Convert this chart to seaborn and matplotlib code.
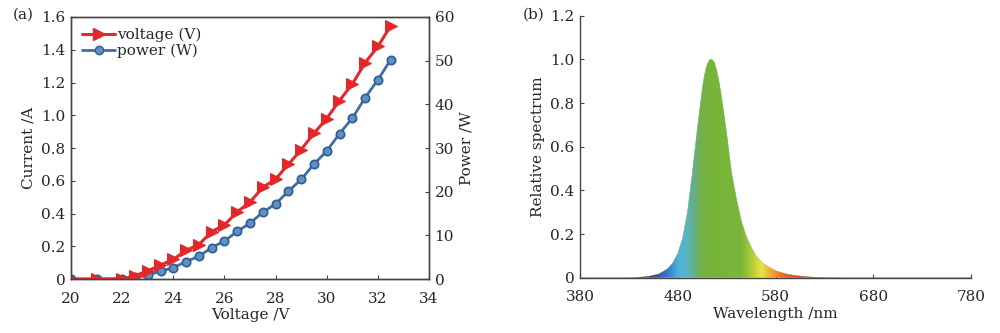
import numpy as np
import pandas as pd
import matplotlib
matplotlib.use("Agg")
import matplotlib.pyplot as plt
import seaborn as sns
from matplotlib.colors import LinearSegmentedColormap, Normalize
from matplotlib.lines import Line2D

# ---- data ----
volts = [20, 21, 22, 22.5, 23, 23.5, 24, 24.5, 25, 25.5, 26, 26.5, 27, 27.5,
         28, 28.5, 29, 29.5, 30, 30.5, 31, 31.5, 32, 32.5]
current = [0, 0, 0, 0.02, 0.05, 0.085, 0.12, 0.175, 0.21, 0.29, 0.33, 0.41,
           0.47, 0.56, 0.61, 0.70, 0.79, 0.89, 0.98, 1.09, 1.19, 1.32, 1.42, 1.545]
power = [0, 0, 0.1, 0.4, 0.9, 1.8, 2.6, 4.0, 5.2, 7.2, 8.7, 10.9, 12.8, 15.3,
         17.2, 20.1, 22.8, 26.3, 29.3, 33.3, 36.8, 41.5, 45.6, 50.2]

wavelength = [380, 430, 440, 450, 460, 465, 470, 475, 480, 485, 490, 495, 500,
              505, 507.5, 510, 512.5, 515, 517.5, 520, 522.5, 525, 530, 535,
              540, 545, 550, 555, 560, 565, 570, 580, 590, 600, 610, 620, 630,
              650, 700, 780]
spectrum = [0, 0, 0.002, 0.006, 0.016, 0.028, 0.042, 0.068, 0.11, 0.18, 0.30,
            0.48, 0.68, 0.86, 0.93, 0.975, 0.997, 1.00, 0.985, 0.945, 0.89,
            0.82, 0.66, 0.48, 0.36, 0.26, 0.19, 0.14, 0.10, 0.075, 0.057,
            0.032, 0.018, 0.010, 0.005, 0.002, 0.001, 0, 0, 0]

a_yticks = [0, 0.2, 0.4, 0.6, 0.8, 1.0, 1.2, 1.4, 1.6]
a_ylabels = ["0", "0.2", "0.4", "0.6", "0.8", "1.0", "1.2", "1.4", "1.6"]
b_yticks = [0, 0.2, 0.4, 0.6, 0.8, 1.0, 1.2]
b_ylabels = ["0", "0.2", "0.4", "0.6", "0.8", "1.0", "1.2"]

sns.set_style("ticks")
plt.rcParams["font.family"] = ["DejaVu Serif"]
plt.rcParams["font.size"] = 11
plt.rcParams["xtick.direction"] = "in"
plt.rcParams["ytick.direction"] = "in"

df = pd.DataFrame({"V": volts, "I": current, "P": power})

red = "#e3282c"
blue = "#3f6ea4"
spine_col = "#444444"

fig = plt.figure(figsize=(10, 3.33), dpi=100)

# ---- panel (a) ----
ax = fig.add_axes([0.071, 0.162, 0.358, 0.787])
ax2 = ax.twinx()
sns.lineplot(data=df, x="V", y="P", ax=ax2, color=blue, linewidth=2,
             marker="o", markersize=6, markerfacecolor="#5f8fc4",
             markeredgecolor="#2f5d92", markeredgewidth=1.2)
sns.lineplot(data=df, x="V", y="I", ax=ax, color=red, linewidth=2.2,
             marker=">", markersize=8, markerfacecolor=red,
             markeredgecolor=red)
ax.set_zorder(ax2.get_zorder() + 1)
ax.patch.set_visible(False)

ax.set_xlim(20, 34)
ax.set_ylim(0, 1.6)
ax2.set_ylim(0, 60)
ax.set_xticks(range(20, 35, 2))
ax.set_yticks(a_yticks)
ax.set_yticklabels(a_ylabels)
ax2.set_yticks(range(0, 61, 10))
ax.set_xlabel("Voltage /V", labelpad=2)
ax.set_ylabel("Current /A", labelpad=4)
ax2.set_ylabel("Power /W", labelpad=4)
for a in (ax, ax2):
    for s in a.spines.values():
        s.set_color(spine_col)
        s.set_linewidth(1)
    a.tick_params(length=3, width=0.8, color=spine_col, pad=4)
ax.tick_params(axis="x", pad=9)

handles = [
    Line2D([], [], color=red, linewidth=2.2, marker=">", markersize=8),
    Line2D([], [], color=blue, linewidth=2, marker="o", markersize=6,
           markerfacecolor="#5f8fc4", markeredgecolor="#2f5d92"),
]
ax.legend(handles, ["voltage (V)", "power (W)"], loc="upper left",
          frameon=False, handlelength=2.2, handletextpad=0.1,
          borderaxespad=0.3, labelspacing=0.1, fontsize=11)
fig.text(0.013, 0.955, "(a)", fontsize=11, va="center")

# ---- panel (b) ----
bx = fig.add_axes([0.58, 0.166, 0.391, 0.787])
sns.lineplot(x=wavelength, y=spectrum, ax=bx, color="#6aa83a", linewidth=0.4)
poly = bx.fill_between(wavelength, spectrum, 0, facecolor="none",
                       edgecolor="none")
stops = [(420, "#3a2f6a"), (455, "#3b3f92"), (470, "#3f78cc"),
         (480, "#4eb2da"), (488, "#58b6c8"), (495, "#63ae94"),
         (503, "#72b14e"), (512, "#76b43a"), (545, "#7ab63a"),
         (556, "#b2cb3a"), (566, "#e9e43e"), (575, "#f2a83a"),
         (588, "#ee6a2a"), (605, "#d63b2a"), (630, "#8a2a2a"),
         (660, "#5a2030")]
lo, hi = 420, 660
spec_cmap = LinearSegmentedColormap.from_list(
    "spec", [((w - lo) / (hi - lo), c) for w, c in stops])
grad = np.linspace(lo, hi, 600)[np.newaxis, :]
img = bx.imshow(grad, extent=[lo, hi, 0, 1.0], cmap=spec_cmap,
                norm=Normalize(lo, hi), aspect="auto", origin="lower",
                zorder=2)
img.set_clip_path(poly.get_paths()[0], transform=bx.transData)

bx.set_xlim(380, 780)
bx.set_ylim(0, 1.2)
bx.set_xticks([380, 480, 580, 680, 780])
bx.set_yticks(b_yticks)
bx.set_yticklabels(b_ylabels)
bx.set_xlabel("Wavelength /nm", labelpad=2)
bx.set_ylabel("Relative spectrum", labelpad=4)
bx.spines["top"].set_visible(False)
bx.spines["right"].set_visible(False)
for s in ("left", "bottom"):
    bx.spines[s].set_color(spine_col)
    bx.spines[s].set_linewidth(1)
    bx.spines[s].set_zorder(5)
bx.tick_params(length=3, width=0.8, color=spine_col, pad=4)
bx.tick_params(axis="x", pad=9)
fig.text(0.523, 0.955, "(b)", fontsize=11, va="center")

fig.savefig("out.png", dpi=100)
